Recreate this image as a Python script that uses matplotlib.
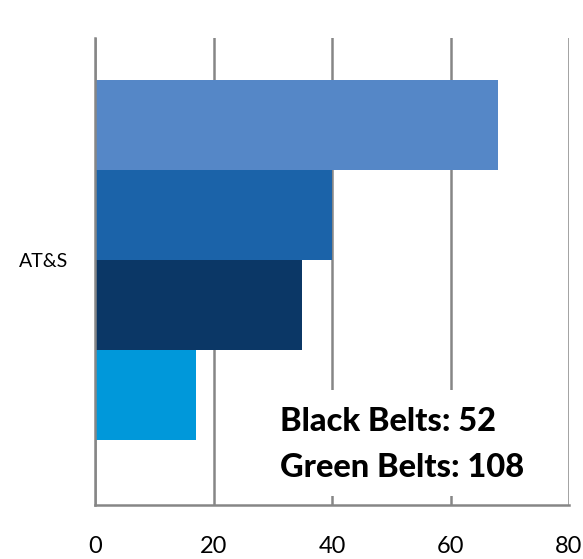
import matplotlib.pyplot as plt
from matplotlib.patches import Rectangle

# bar data (top to bottom)
category = "AT&S"
values = [68, 40, 35, 17]
colors = ["#5587C7", "#1B63A9", "#0B3766", "#0098DA"]
x_ticks = [0, 20, 40, 60, 80]
note_lines = ["Black Belts: 52", "Green Belts: 108"]

plt.rcParams['font.family'] = ['Lato', 'DejaVu Sans']

fig = plt.figure(figsize=(5.83, 5.59), dpi=100)
ax = fig.add_axes([0.163, 0.0966, 0.813, 0.8354])

pos = list(range(len(values)))
ax.barh(pos, values, height=1.0, color=colors, zorder=1)

ax.set_xlim(0, 80)
ax.set_ylim(4.222, -0.967)
ax.set_xticks(x_ticks)
ax.set_xticklabels([str(t) for t in x_ticks], fontsize=17)
ax.set_yticks([1.5])
ax.set_yticklabels([category], fontsize=14)
ax.tick_params(axis='both', length=0)
ax.tick_params(axis='x', pad=22)
ax.tick_params(axis='y', pad=19)

ax.set_axisbelow(True)
ax.grid(axis='x', color='#868686', linewidth=1.8)
ax.grid(axis='y', visible=False)

for s in ['top', 'right']:
    ax.spines[s].set_visible(False)
for s in ['left', 'bottom']:
    ax.spines[s].set_color('#868686')
    ax.spines[s].set_linewidth(1.8)

# white text box covering the grid
box = Rectangle((0.369, 0.019), 0.612, 0.227, transform=ax.transAxes,
                facecolor='white', edgecolor='none', zorder=1.5)
ax.add_patch(box)
ax.text(0.39, 0.178, note_lines[0], transform=ax.transAxes, fontsize=23.5,
        fontweight='black', va='center', ha='left', zorder=3)
ax.text(0.39, 0.081, note_lines[1], transform=ax.transAxes, fontsize=23.5,
        fontweight='black', va='center', ha='left', zorder=3)

fig.savefig('out.png', dpi=100)
